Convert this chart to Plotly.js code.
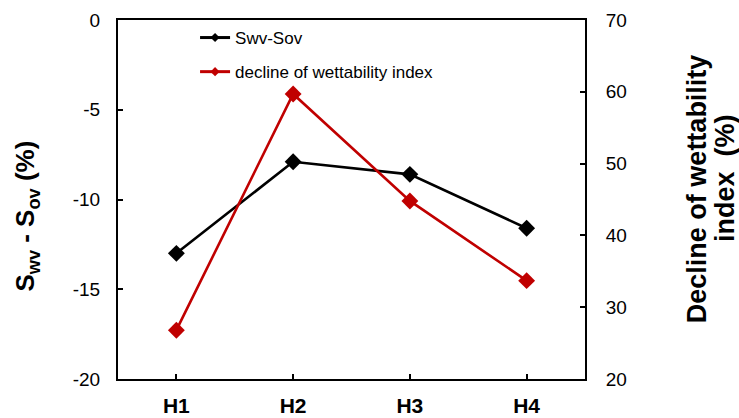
<!DOCTYPE html>
<html>
<head>
<meta charset="utf-8">
<script src="https://cdn.plot.ly/plotly-3.0.1.min.js"></script>
<style>
html,body{margin:0;padding:0;background:#fff;}
#chart{width:739px;height:418px;}
.legend .traces{opacity:1 !important;}
</style>
</head>
<body>
<div id="chart"></div>
<script>
const categories = ["H1", "H2", "H3", "H4"];
const swvSov = [-13.0, -7.9, -8.6, -11.6];
const declineWettability = [26.8, 59.7, 44.8, 33.7];
const leftTicks = [0, -5, -10, -15, -20];
const rightTicks = [20, 30, 40, 50, 60, 70];
const seriesNames = ["Swv-Sov", "decline of wettability index"];
const leftTitle = "<b>S<sub>wv</sub> - S<sub>ov</sub> (%)</b>";
const rightTitleLines = ["<b>Decline of wettability</b>", "<b>index  (%)</b>"];

const BLACK = "#000000";
const RED = "#c00000";
const FONT = "Liberation Sans, Arial, sans-serif";

const traces = [
  {x: categories, y: swvSov, type: "scatter", mode: "lines+markers", name: seriesNames[0],
   line: {color: BLACK, width: 2.6}, marker: {symbol: "diamond", size: 13, color: BLACK},
   showlegend: false, cliponaxis: false},
  {x: categories, y: declineWettability, type: "scatter", mode: "lines+markers", name: seriesNames[1],
   yaxis: "y2", line: {color: RED, width: 2.6}, marker: {symbol: "diamond", size: 13, color: RED},
   showlegend: false, cliponaxis: false},
  {x: categories, y: swvSov, type: "scatter", mode: "lines+markers", name: seriesNames[0],
   line: {color: BLACK, width: 3}, marker: {symbol: "diamond", size: 7, color: BLACK},
   visible: "legendonly", legendgroup: "a"},
  {x: categories, y: declineWettability, type: "scatter", mode: "lines+markers", name: seriesNames[1],
   yaxis: "y2", line: {color: RED, width: 3}, marker: {symbol: "diamond", size: 7, color: RED},
   visible: "legendonly", legendgroup: "b"}
];

const layout = {
  width: 739, height: 418,
  margin: {l: 118, r: 154, t: 20, b: 39},
  paper_bgcolor: "#fff", plot_bgcolor: "#fff",
  font: {family: FONT, color: "#000", size: 17},
  showlegend: true,
  legend: {x: 0.165, y: 1.0, xanchor: "left", yanchor: "top", bgcolor: "rgba(0,0,0,0)",
           font: {family: FONT, size: 17, color: "#000"}, traceorder: "grouped", tracegroupgap: 9},
  xaxis: {
    type: "category", range: [-0.5, 3.5], showgrid: false, zeroline: false,
    showline: true, linecolor: BLACK, linewidth: 2, mirror: true,
    ticks: "inside", ticklen: 5, tickwidth: 2, tickcolor: BLACK, ticklabelstandoff: 7,
    tickfont: {family: FONT, size: 21, color: "#000", weight: "bold"}
  },
  yaxis: {
    range: [-20, 0], tickvals: leftTicks, ticktext: leftTicks.map(String),
    showgrid: false, zeroline: false, showline: true, linecolor: BLACK, linewidth: 2,
    ticks: "inside", ticklen: 5, tickwidth: 2, tickcolor: BLACK, ticklabelstandoff: 12,
    tickfont: {family: FONT, size: 19, color: "#000"}
  },
  yaxis2: {
    range: [20, 70], tickvals: rightTicks, overlaying: "y", side: "right",
    showgrid: false, zeroline: false, showline: true, linecolor: BLACK, linewidth: 2,
    ticks: "inside", ticklen: 5, tickwidth: 2, tickcolor: BLACK, ticklabelstandoff: 15,
    tickfont: {family: FONT, size: 19, color: "#000"}
  },
  annotations: [
    {text: leftTitle, xref: "paper", yref: "paper", x: -0.195, y: 0.455, xanchor: "center", yanchor: "middle",
     textangle: -90, showarrow: false, font: {family: FONT, size: 26, color: "#000"}},
    {text: rightTitleLines[0], xref: "paper", yref: "paper", x: 1.240, y: 0.529, xanchor: "center", yanchor: "middle",
     textangle: -90, showarrow: false, font: {family: FONT, size: 27, color: "#000"}},
    {text: rightTitleLines[1], xref: "paper", yref: "paper", x: 1.300, y: 0.56, xanchor: "center", yanchor: "middle",
     textangle: -90, showarrow: false, font: {family: FONT, size: 27, color: "#000"}}
  ]
};

Plotly.newPlot("chart", traces, layout, {displayModeBar: false, staticPlot: true});
</script>
</body>
</html>
